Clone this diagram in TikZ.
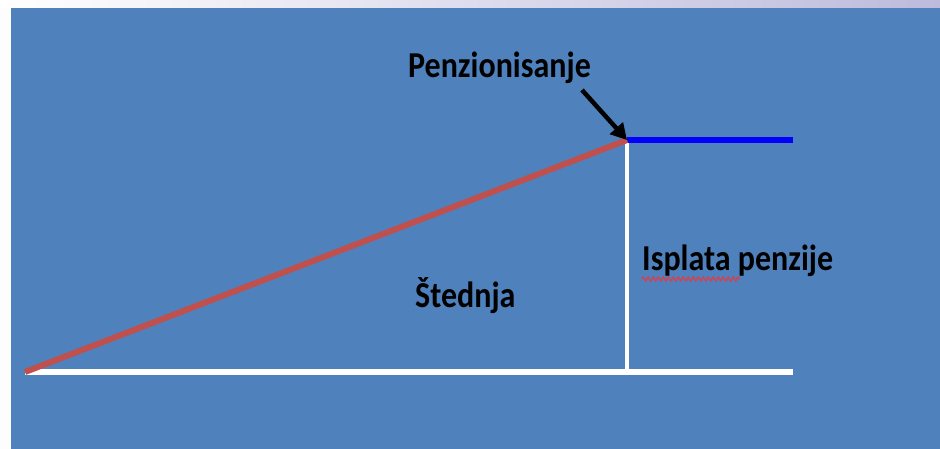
\documentclass[tikz,border=0pt]{standalone}
\usepackage{fontspec}
\setmainfont{Carlito}
\usetikzlibrary{arrows.meta,decorations.pathmorphing}
\definecolor{bgblue}{HTML}{4F81BD}
\definecolor{lav}{HTML}{BDBBDC}
\definecolor{redline}{HTML}{C0504D}
\definecolor{squig}{HTML}{E03C46}
\tikzset{
  lbl/.style={font=\fontsize{32}{36}\selectfont\bfseries, text=black, inner sep=0pt, anchor=base west},
  whiteline/.style={draw=white, line width=5.5pt},
}
\newcommand{\tallt}[1]{\scalebox{1}[1.14]{#1}}
\begin{document}
\begin{tikzpicture}[x=1pt,y=-1pt]
\useasboundingbox (0,0) rectangle (940,449);
\fill[white!97!lav] (0,0) rectangle (940,449);
\shade[left color=white, right color=lav] (0,0) rectangle (940,8);
\fill[bgblue] (11,8) rectangle (940,449);
% coordinates
\coordinate (O) at (25,372);
\coordinate (P) at (627,140);
\coordinate (B) at (627,372);
\coordinate (E) at (793,372);
\coordinate (T) at (793,140);
\coordinate (A) at (582,90);
\draw[whiteline] (O) -- (E);
\draw[draw=white, line width=4pt] (P) -- (B);
\draw[draw=blue, line width=6pt] (P) -- (T);
\draw[draw=redline, line width=6pt] (O) -- (P);
\draw[line width=4.5pt, -{Triangle[length=16pt,width=17pt]}] (A) -- (P);
\node[lbl] (pen) at (408,78) {\tallt{Penzionisanje}};
\node[lbl] (isp) at (642,271) {\tallt{Isplata penzije}};
\node[lbl] (sted) at (415,307) {\tallt{Štednja}};
\draw[squig, line width=1.2pt, decorate, decoration={zigzag, amplitude=2pt, segment length=5pt}] (642,279) -- (740,279);
\end{tikzpicture}
\end{document}
